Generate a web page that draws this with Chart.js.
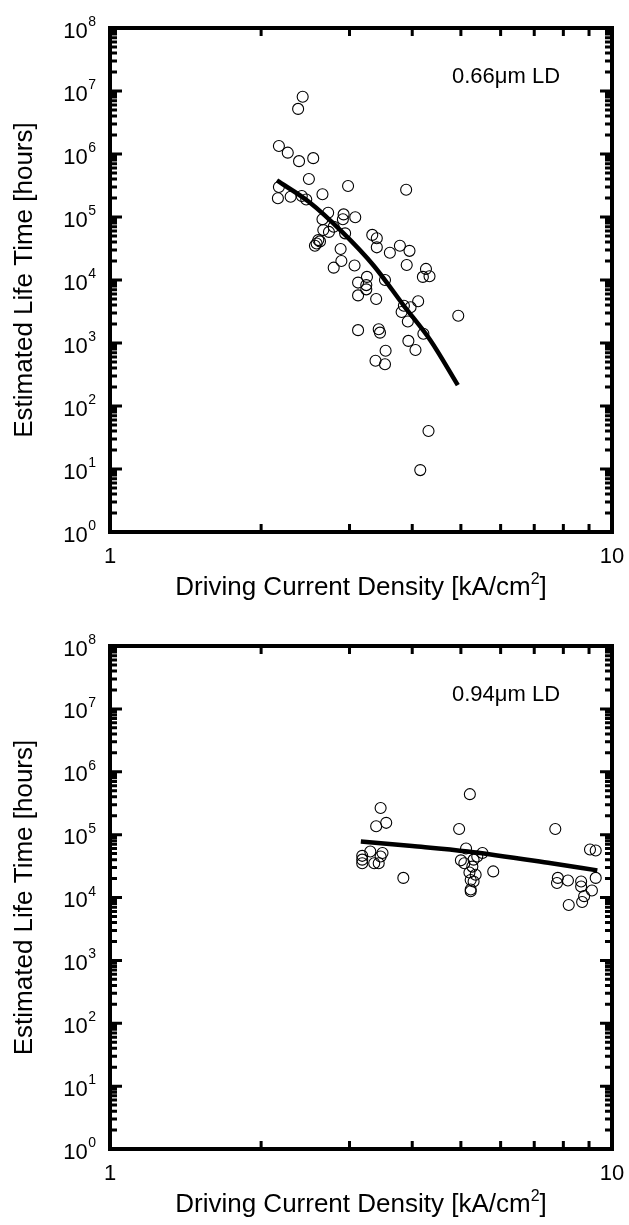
<!DOCTYPE html>
<html><head><meta charset="utf-8">
<script src="https://cdn.jsdelivr.net/npm/chart.js@4.4.1/dist/chart.umd.min.js"></script>
<style>
html,body{margin:0;padding:0;background:#fff;}
canvas{display:block;}
</style></head><body>
<canvas id="c1" width="629" height="617"></canvas>
<canvas id="c2" width="629" height="608"></canvas>
<script>
// ---- data: 0.66 um LD ----
const topX = [2.42,2.37,2.17,2.26,2.38,2.54,2.49,2.98,3.89,2.17,2.16,2.29,2.41,2.46,2.65,2.72,2.92,2.91,3.08,2.65,2.79,2.66,2.73,2.94,2.60,2.58,2.56,2.62,3.33,3.40,3.40,3.61,3.78,3.95,2.88,2.89,2.79,3.07,3.90,4.26,4.20,4.33,3.12,3.25,3.24,3.12,3.39,3.53,4.11,3.85,3.97,3.24,3.81,3.92,4.94,4.21,3.12,3.43,3.45,3.93,4.06,3.54,3.38,3.53,4.31,4.15];
const topY = [8.1e6,5.2e6,1.34e6,1.05e6,7.7e5,8.6e5,4.0e5,3.1e5,2.7e5,3.0e5,1.98e5,2.1e5,2.15e5,1.9e5,2.3e5,1.17e5,1.1e5,9.2e4,9.9e4,9.2e4,7.0e4,6.2e4,5.8e4,5.5e4,4.3e4,3.8e4,3.5e4,4.1e4,5.2e4,4.6e4,3.3e4,2.7e4,3.5e4,2.9e4,3.1e4,2.0e4,1.57e4,1.7e4,1.73e4,1.5e4,1.12e4,1.15e4,9.1e3,1.12e4,7.1e3,5.7e3,5.0e3,1.0e4,4.6e3,3.9e3,3.7e3,8.3e3,3.1e3,2.2e3,2.7e3,1.4e3,1.6e3,1.65e3,1.46e3,1.08e3,775,755,524,459,40,9.6];
const topFitX = [2.15,2.5,2.9,3.35,3.85,4.35,4.93];
const topFitY = [3.8e5,1.7e5,5.8e4,1.7e4,3.9e3,1.1e3,215];
// ---- data: 0.94 um LD ----
const botX = [5.21,3.46,3.55,3.39,4.96,7.71,3.30,3.18,3.18,3.18,3.36,3.43,3.49,3.46,3.84,5.12,5.00,5.08,5.30,5.39,5.52,5.27,5.20,5.35,5.23,5.30,5.23,5.23,5.80,9.04,9.28,7.80,7.77,8.17,8.68,8.68,9.28,9.12,8.80,8.72,8.20];
const botY = [4.4e5,2.65e5,1.54e5,1.36e5,1.23e5,1.23e5,5.4e4,4.6e4,4.0e4,3.5e4,3.5e4,3.5e4,5.1e4,4.5e4,2.05e4,6.0e4,3.9e4,3.5e4,4.0e4,4.5e4,5.1e4,3.1e4,2.5e4,2.3e4,1.9e4,1.8e4,1.34e4,1.26e4,2.6e4,5.8e4,5.6e4,2.05e4,1.7e4,1.86e4,1.8e4,1.5e4,2.05e4,1.29e4,1.05e4,8.5e3,7.6e3];
const botFitX = [3.16,4.0,5.16,7.57,9.35];
const botFitY = [7.8e4,6.6e4,5.4e4,3.5e4,2.7e4];
// ---- axes / text ----
const xTickLabels = [1, 10];
const yDecades = [0,1,2,3,4,5,6,7,8];
const xTitleMain = 'Driving Current Density [kA/cm';
const xTitleSup = '2';
const xTitleEnd = ']';
const yTitle = 'Estimated Life Time [hours]';
const panelLabels = ['0.66\u03bcm LD', '0.94\u03bcm LD'];

const FONT = '"Liberation Sans", Arial, sans-serif';

function framePlugin(label) {
  return {
    id: 'frame',
    afterDraw(chart) {
      const ctx = chart.ctx, xs = chart.scales.x, ys = chart.scales.y, a = chart.chartArea;
      ctx.save();
      ctx.strokeStyle = '#000';
      ctx.fillStyle = '#000';
      // ticks
      ctx.lineWidth = 3;
      ctx.lineCap = 'butt';
      ctx.beginPath();
      for (let d = 0; d < 8; d++) {
        for (let m = 1; m <= 9; m++) {
          const v = m * Math.pow(10, d);
          if (d === 0 && m === 1) continue;
          const py = ys.getPixelForValue(v);
          const len = m === 1 ? 10 : 5;
          ctx.moveTo(a.left, py); ctx.lineTo(a.left + 2 + len, py);
          ctx.moveTo(a.right, py); ctx.lineTo(a.right - 2 - len, py);
        }
      }
      for (let m = 2; m <= 9; m++) {
        const px = xs.getPixelForValue(m);
        ctx.moveTo(px, a.bottom); ctx.lineTo(px, a.bottom - 8);
        ctx.moveTo(px, a.top); ctx.lineTo(px, a.top + 8);
      }
      ctx.stroke();
      // frame
      ctx.lineWidth = 4;
      ctx.strokeRect(a.left, a.top, a.right - a.left, a.bottom - a.top);
      // y tick labels
      ctx.textBaseline = 'alphabetic';
      yDecades.forEach(d => {
        const py = ys.getPixelForValue(Math.pow(10, d));
        ctx.font = '14px ' + FONT;
        const sw = ctx.measureText(String(d)).width;
        ctx.textAlign = 'left';
        const right = 96;
        ctx.fillText(String(d), right - sw, py - 2);
        ctx.font = '22px ' + FONT;
        ctx.textAlign = 'right';
        ctx.fillText('10', right - sw - 0.5, py + 9.5);
      });
      // x tick labels
      ctx.font = '22px ' + FONT;
      ctx.textAlign = 'center';
      xTickLabels.forEach(v => {
        ctx.fillText(String(v), xs.getPixelForValue(v), a.bottom + 31);
      });
      // x title
      ctx.font = '26px ' + FONT;
      const w1 = ctx.measureText(xTitleMain).width;
      const w3 = ctx.measureText(xTitleEnd).width;
      ctx.font = '16px ' + FONT;
      const w2 = ctx.measureText(xTitleSup).width;
      const total = w1 + w2 + w3;
      const cx = (a.left + a.right) / 2;
      let x0 = cx - total / 2;
      const by = a.bottom + 63;
      ctx.textAlign = 'left';
      ctx.font = '26px ' + FONT;
      ctx.fillText(xTitleMain, x0, by);
      ctx.font = '16px ' + FONT;
      ctx.fillText(xTitleSup, x0 + w1, by - 11);
      ctx.font = '26px ' + FONT;
      ctx.fillText(xTitleEnd, x0 + w1 + w2, by);
      // y title
      ctx.save();
      ctx.translate(25, (a.top + a.bottom) / 2);
      ctx.rotate(-Math.PI / 2);
      ctx.textAlign = 'center';
      ctx.textBaseline = 'middle';
      ctx.font = '26px ' + FONT;
      ctx.fillText(yTitle, 0, 0);
      ctx.restore();
      // panel label
      ctx.font = '22px ' + FONT;
      ctx.textAlign = 'left';
      ctx.textBaseline = 'alphabetic';
      ctx.fillText(label, 452, a.top + 55);
      ctx.restore();
    }
  };
}

function makeChart(id, xs, ys, fx, fy, label, padTop, padBottom) {
  const pts = xs.map((x, i) => ({x: x, y: ys[i]}));
  const fit = fx.map((x, i) => ({x: x, y: fy[i]}));
  return new Chart(document.getElementById(id), {
    type: 'scatter',
    data: {
      datasets: [
        {data: pts, pointRadius: 5.5, pointHoverRadius: 5.5, borderColor: '#000', backgroundColor: 'rgba(0,0,0,0)', borderWidth: 1.1, showLine: false},
        {data: fit, showLine: true, pointRadius: 0, borderColor: '#000', borderWidth: 4.5, cubicInterpolationMode: 'monotone', fill: false}
      ]
    },
    options: {
      responsive: false,
      animation: false,
      devicePixelRatio: 1,
      layout: {autoPadding: false, padding: {left: 110, right: 17, top: padTop, bottom: padBottom}},
      plugins: {legend: {display: false}, tooltip: {enabled: false}},
      scales: {
        x: {type: 'logarithmic', min: 1, max: 10, display: false},
        y: {type: 'logarithmic', min: 1, max: 1e8, display: false}
      },
      clip: false
    },
    plugins: [framePlugin(label)]
  });
}

makeChart('c1', topX, topY, topFitX, topFitY, panelLabels[0], 28, 617 - 532);
makeChart('c2', botX, botY, botFitX, botFitY, panelLabels[1], 29, 608 - 532);
</script>
</body></html>
